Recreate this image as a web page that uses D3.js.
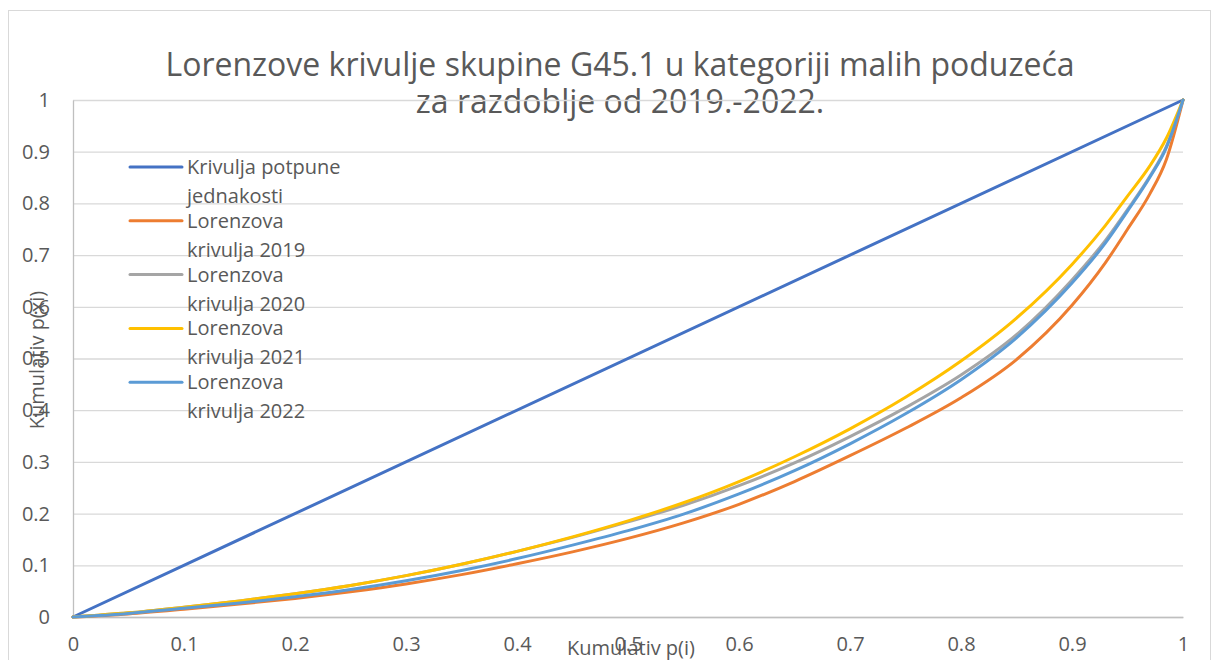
<!DOCTYPE html>
<html>
<head>
<meta charset="utf-8">
<script src="https://cdn.jsdelivr.net/npm/d3@7"></script>
<style>
  html, body { margin: 0; padding: 0; background: #fff; }
  svg { display: block; }
  text { font-family: "Open Sans", sans-serif; fill: #595959; }
</style>
</head>
<body>
<svg id="chart" width="1218" height="660"></svg>
<script>
// Cumulative share of units p(i)
const xs = [0, 0.05, 0.1, 0.15, 0.2, 0.25, 0.3, 0.35, 0.4, 0.45, 0.5, 0.55, 0.6, 0.65, 0.7, 0.75, 0.8, 0.85, 0.9, 0.93, 0.95, 0.97, 0.985, 1];
// Cumulative share of values p(xi) per year
const y2019 = [0, 0.006, 0.015, 0.025, 0.036, 0.049, 0.064, 0.082, 0.103, 0.126, 0.152, 0.182, 0.218, 0.262, 0.312, 0.365, 0.424, 0.498, 0.603, 0.685, 0.750, 0.818, 0.885, 1];
const y2020 = [0, 0.008, 0.019, 0.031, 0.045, 0.061, 0.080, 0.102, 0.127, 0.154, 0.184, 0.216, 0.254, 0.298, 0.349, 0.405, 0.468, 0.546, 0.652, 0.728, 0.788, 0.852, 0.910, 1];
const y2021 = [0, 0.008, 0.019, 0.031, 0.045, 0.061, 0.080, 0.102, 0.127, 0.155, 0.186, 0.221, 0.262, 0.310, 0.364, 0.425, 0.495, 0.578, 0.682, 0.757, 0.814, 0.872, 0.926, 1];
const y2022 = [0, 0.007, 0.017, 0.027, 0.039, 0.053, 0.070, 0.090, 0.113, 0.139, 0.167, 0.199, 0.238, 0.283, 0.335, 0.393, 0.459, 0.540, 0.646, 0.723, 0.785, 0.850, 0.908, 1];
// Line of perfect equality
const eqX = [0, 1];
const eqY = [0, 1];

const seriesNames = ["Krivulja potpune jednakosti", "Lorenzova krivulja 2019", "Lorenzova krivulja 2020", "Lorenzova krivulja 2021", "Lorenzova krivulja 2022"];
const legendLines = [["Krivulja potpune", "jednakosti"], ["Lorenzova", "krivulja 2019"], ["Lorenzova", "krivulja 2020"], ["Lorenzova", "krivulja 2021"], ["Lorenzova", "krivulja 2022"]];
const colors = ["#4472C4", "#ED7D31", "#A5A5A5", "#FFC000", "#5B9BD5"];
const tickValues = [0, 0.1, 0.2, 0.3, 0.4, 0.5, 0.6, 0.7, 0.8, 0.9, 1];
const titleLines = ["Lorenzove krivulje skupine G45.1 u kategoriji malih poduzeća", "za razdoblje od 2019.-2022."];
const xTitle = "Kumulativ p(i)";
const yTitle = "Kumulativ p(xi)";

const svg = d3.select("#chart");
const plot = { left: 73, right: 1183, top: 100, bottom: 617 };

const x = d3.scaleLinear().domain([0, 1]).range([plot.left, plot.right]);
const y = d3.scaleLinear().domain([0, 1]).range([plot.bottom, plot.top]);

// outer chart frame
svg.append("rect")
  .attr("x", 8.5).attr("y", 10.5).attr("width", 1202).attr("height", 670)
  .attr("fill", "none").attr("stroke", "#d9d9d9").attr("stroke-width", 1);

// title
svg.append("g").selectAll("text").data(titleLines).join("text")
  .attr("x", 620).attr("y", (d, i) => 76 + i * 37)
  .attr("text-anchor", "middle")
  .style("font-size", "32px")
  .text(d => d);

// horizontal gridlines
svg.append("g")
  .attr("transform", `translate(${plot.left},0)`)
  .call(d3.axisLeft(y).tickValues(tickValues).tickSize(-(plot.right - plot.left)).tickFormat(""))
  .call(g => g.select(".domain").remove())
  .call(g => g.selectAll(".tick line").attr("stroke", "#d9d9d9").attr("stroke-width", 1.3));

// y axis labels
svg.append("g")
  .attr("transform", `translate(${plot.left},0)`)
  .call(d3.axisLeft(y).tickValues(tickValues).tickSize(0).tickPadding(23).tickFormat(d3.format("")))
  .call(g => g.select(".domain").attr("stroke", "#bfbfbf").attr("stroke-width", 1.3))
  .call(g => g.selectAll(".tick text").style("font-size", "20px").attr("fill", "#595959"));

// x axis labels
svg.append("g")
  .attr("transform", `translate(0,${plot.bottom})`)
  .call(d3.axisBottom(x).tickValues(tickValues).tickSize(0).tickPadding(20).tickFormat(d3.format("")))
  .call(g => g.select(".domain").attr("stroke", "#bfbfbf").attr("stroke-width", 1.3))
  .call(g => g.selectAll(".tick text").style("font-size", "20px").attr("fill", "#595959"));

// axis titles
svg.append("text")
  .attr("x", 631).attr("y", 655)
  .attr("text-anchor", "middle")
  .style("font-size", "20px")
  .text(xTitle);

svg.append("text")
  .attr("transform", "translate(44,360) rotate(-90)")
  .attr("text-anchor", "middle")
  .style("font-size", "20px")
  .text(yTitle);

// series
const seriesY = [eqY, y2019, y2020, y2021, y2022];
const seriesX = [eqX, xs, xs, xs, xs];
const line = d3.line().x(d => x(d[0])).y(d => y(d[1])).curve(d3.curveMonotoneX);

const lines = svg.append("g");
seriesY.forEach((vals, i) => {
  const pts = seriesX[i].map((v, k) => [v, vals[k]]);
  lines.append("path")
    .datum(pts)
    .attr("d", line)
    .attr("fill", "none")
    .attr("stroke", colors[i])
    .attr("stroke-width", 3)
    .attr("stroke-linejoin", "round")
    .attr("stroke-linecap", "round");
});

// legend
const legend = svg.append("g").attr("transform", "translate(130,167)");
const item = legend.selectAll("g").data(seriesNames).join("g")
  .attr("transform", (d, i) => `translate(0,${i * 53.8})`);
item.append("line")
  .attr("x1", 0).attr("x2", 52).attr("y1", 0).attr("y2", 0)
  .attr("stroke", (d, i) => colors[i]).attr("stroke-width", 3).attr("stroke-linecap", "round");
item.append("text")
  .attr("x", 57).attr("y", 0)
  .style("font-size", "20px")
  .selectAll("tspan").data((d, i) => legendLines[i]).join("tspan")
  .attr("x", 57).attr("y", (d, k) => 7 + k * 29)
  .text(d => d);
</script>
</body>
</html>
